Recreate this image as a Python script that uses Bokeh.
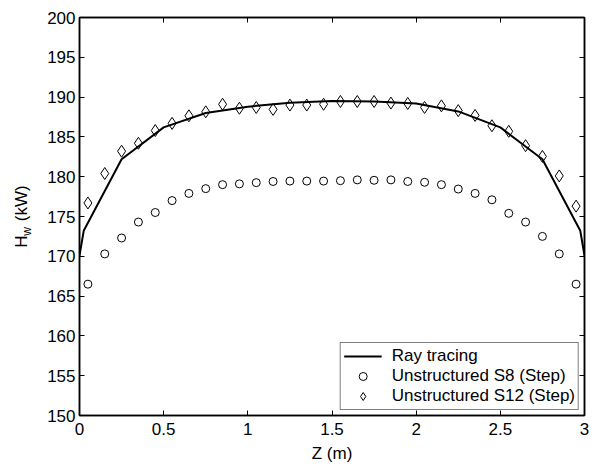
from bokeh.plotting import figure
from bokeh.models import (Range1d, LinearAxis, FixedTicker, NumeralTickFormatter,
                          CustomJSTickFormatter, Legend, LegendItem)
from bokeh.embed import file_html
from bokeh.resources import INLINE

# ---- data ----
z_ray = [0.0, 0.025, 0.25, 0.5, 0.75, 1.0, 1.25, 1.5, 1.75, 2.0, 2.25, 2.5, 2.75, 2.975, 3.0]
h_ray = [170.1, 173.2, 182.2, 186.2, 188.0, 188.8, 189.3, 189.5, 189.45, 189.2, 188.2, 186.2, 182.2, 173.2, 170.1]

z_pts = [0.05, 0.15, 0.25, 0.35, 0.45, 0.55, 0.65, 0.75, 0.85, 0.95,
         1.05, 1.15, 1.25, 1.35, 1.45, 1.55, 1.65, 1.75, 1.85, 1.95,
         2.05, 2.15, 2.25, 2.35, 2.45, 2.55, 2.65, 2.75, 2.85, 2.95]
h_s8 = [166.5, 170.3, 172.3, 174.3, 175.5, 177.0, 177.9, 178.5, 179.0, 179.1,
        179.25, 179.4, 179.45, 179.45, 179.45, 179.5, 179.6, 179.55, 179.6, 179.4,
        179.3, 179.0, 178.45, 177.9, 177.1, 175.4, 174.3, 172.5, 170.3, 166.5]
h_s12 = [176.7, 180.4, 183.2, 184.2, 185.8, 186.7, 187.65, 188.15, 189.1, 188.6,
         188.7, 188.45, 189.0, 189.0, 189.1, 189.45, 189.45, 189.45, 189.25, 189.2,
         188.7, 188.9, 188.3, 187.7, 186.4, 185.7, 183.9, 182.55, 180.1, 176.3]

x_ticks = [0, 0.5, 1, 1.5, 2, 2.5, 3]
y_ticks = [150, 155, 160, 165, 170, 175, 180, 185, 190, 195, 200]

x_label = "Z (m)"
y_label_main = "H\u00a0\u00a0\u00a0(kW)"     # gap left for the subscript
y_label_sub = "w" + "\u00a0" * 9           # subscript, padded to sit in the gap
legend_labels = ["Ray tracing", "Unstructured S8 (Step)", "Unstructured S12 (Step)"]

FONT = "Liberation Sans"
FS = "17px"

p = figure(width=598, height=476, x_range=Range1d(0, 3), y_range=Range1d(150, 200),
           output_backend="svg", toolbar_location=None,
           min_border_left=79, min_border_right=14, min_border_top=17, min_border_bottom=61,
           x_axis_label=x_label)
p.background_fill_color = "white"
p.border_fill_color = "white"
p.outline_line_color = "black"
p.outline_line_width = 1.5
p.xgrid.visible = False
p.ygrid.visible = False

def style_axis(ax, ticks, show_labels=True):
    ax.ticker = FixedTicker(ticks=ticks)
    ax.major_tick_in = 5
    ax.major_tick_out = 0
    ax.minor_tick_line_color = None
    ax.axis_line_color = "black"
    ax.axis_line_width = 1.5
    ax.major_tick_line_color = "black"
    ax.major_tick_line_width = 1
    ax.major_label_text_font = FONT
    ax.major_label_text_color = "black"
    ax.major_label_text_font_size = FS
    if show_labels:
        ax.formatter = NumeralTickFormatter(format="0.[0]")
    else:
        ax.formatter = CustomJSTickFormatter(code="return ''")
        ax.major_label_standoff = 0

style_axis(p.xaxis[0], x_ticks)
p.xaxis[0].major_label_standoff = 7
p.xaxis[0].axis_label_text_font = FONT
p.xaxis[0].axis_label_text_font_size = FS
p.xaxis[0].axis_label_text_font_style = "normal"
p.xaxis[0].axis_label_text_color = "black"
p.xaxis[0].axis_label_standoff = 6

yax = p.yaxis[0]
style_axis(yax, y_ticks)
yax.major_label_standoff = 4
yax.axis_label = y_label_main
yax.axis_label_text_font = FONT
yax.axis_label_text_font_size = FS
yax.axis_label_text_font_style = "normal"
yax.axis_label_text_color = "black"
yax.axis_label_standoff = 13

# outer (invisible) left axis that only carries the subscript "w"
sub_ax = LinearAxis(ticker=FixedTicker(ticks=[]), axis_line_color=None,
                    major_tick_line_color=None, minor_tick_line_color=None,
                    major_label_text_font_size="0px",
                    axis_label=y_label_sub, axis_label_text_font=FONT,
                    axis_label_text_font_size="12px", axis_label_text_font_style="normal",
                    axis_label_text_color="black", axis_label_standoff=-24)
p.add_layout(sub_ax, "left")

top_ax = LinearAxis()
style_axis(top_ax, x_ticks, show_labels=False)
p.add_layout(top_ax, "above")
right_ax = LinearAxis()
style_axis(right_ax, y_ticks, show_labels=False)
p.add_layout(right_ax, "right")

r_line = p.line(z_ray, h_ray, line_color="black", line_width=2)
r_s8 = p.scatter(z_pts, h_s8, marker="circle", size=8, fill_color=None,
                 line_color="black", line_width=1)
r_s12 = p.scatter(z_pts, h_s12, marker="diamond", size=12, fill_color=None,
                  line_color="black", line_width=1)

legend = Legend(items=[LegendItem(label=legend_labels[0], renderers=[r_line]),
                       LegendItem(label=legend_labels[1], renderers=[r_s8]),
                       LegendItem(label=legend_labels[2], renderers=[r_s12])],
                location="bottom_right", margin=5, padding=3, spacing=0,
                glyph_width=38, glyph_height=20, label_height=20, label_standoff=10,
                label_text_font=FONT, label_text_font_size=FS, label_text_color="black",
                border_line_color="black", border_line_width=1.5,
                background_fill_color="white", background_fill_alpha=1)
p.add_layout(legend)

open("out.html", "w").write(file_html(p, INLINE))
